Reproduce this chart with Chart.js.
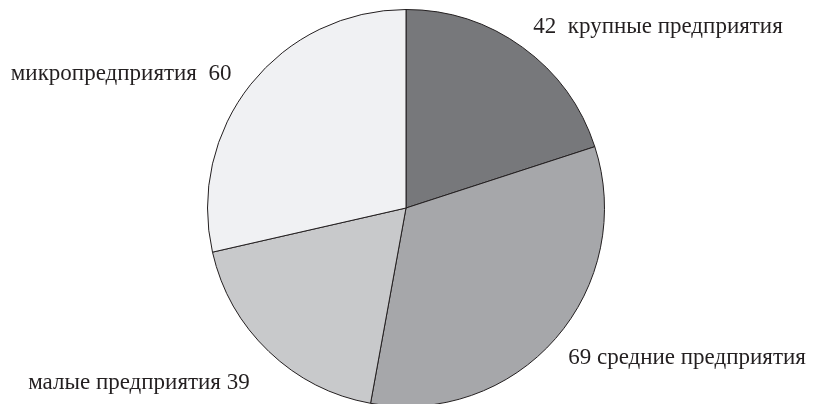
<!DOCTYPE html>
<html>
<head>
<meta charset="utf-8">
<script src="https://cdn.jsdelivr.net/npm/chart.js@4.4.1/dist/chart.umd.min.js"></script>
<style>
  html, body { margin: 0; padding: 0; background: #fff; overflow: hidden; }
  #wrap { width: 814px; height: 420px; }
</style>
</head>
<body>
<div id="wrap"><canvas id="pie" width="814" height="420"></canvas></div>
<script>
// enterprise counts by size
const categories = ["крупные предприятия", "средние предприятия", "малые предприятия", "микропредприятия"];
const counts = [42, 69, 39, 60];
const sliceColors = ["#77787b", "#a6a7aa", "#c8c9cb", "#f0f1f3"];
// value goes before the name on the right side, after it on the left
const numberFirst = [true, true, false, false];
const gaps = ["\u2002", " ", " ", "\u2002"];

const INK = "#231f20";
const FONT = '23px "Liberation Serif", "DejaVu Serif", serif';

// labels sit just outside the pie along each slice's mid angle,
// nudged a little so they clear the rim
const nudge = [[-4, 0], [-6, 3], [-2, 14], [0, 5]];

const outsideLabels = {
  id: "outsideLabels",
  afterDatasetsDraw(chart) {
    const { ctx } = chart;
    const arcs = chart.getDatasetMeta(0).data;
    ctx.save();
    ctx.font = FONT;
    ctx.fillStyle = INK;
    ctx.textBaseline = "middle";
    arcs.forEach((arc, i) => {
      const mid = (arc.startAngle + arc.endAngle) / 2;
      const d = arc.outerRadius * 1.125;
      const x = arc.x + Math.cos(mid) * d + nudge[i][0];
      const y = arc.y + Math.sin(mid) * d + nudge[i][1];
      ctx.textAlign = Math.cos(mid) >= 0 ? "left" : "right";
      const text = numberFirst[i]
        ? counts[i] + gaps[i] + categories[i]
        : categories[i] + gaps[i] + counts[i];
      ctx.fillText(text, x, y);
    });
    ctx.restore();
  }
};

new Chart(document.getElementById("pie"), {
  type: "pie",
  data: {
    labels: categories,
    datasets: [{
      data: counts,
      backgroundColor: sliceColors,
      borderColor: INK,
      borderWidth: 1
    }]
  },
  options: {
    responsive: false,
    animation: false,
    layout: { padding: { top: 9, bottom: 13, left: 207, right: 209 } },
    plugins: {
      legend: { display: false },
      tooltip: { enabled: false }
    }
  },
  plugins: [outsideLabels]
});
</script>
</body>
</html>
